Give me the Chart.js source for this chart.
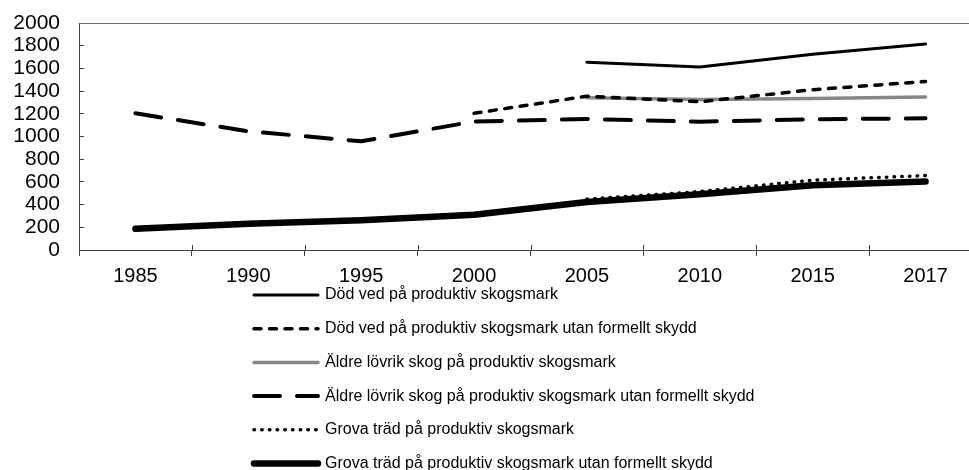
<!DOCTYPE html>
<html><head><meta charset="utf-8">
<script src="https://cdn.jsdelivr.net/npm/chart.js@4/dist/chart.umd.min.js"></script>
<style>
html,body{margin:0;padding:0;overflow:hidden;background:#fff;}
#wrap{position:relative;width:990px;height:470px;}
</style></head><body>
<div id="wrap"><canvas id="c"></canvas></div>
<script>
const years = ['1985','1990','1995','2000','2005','2010','2015','2017'];
const dodVed          = [null, null, null, null, 1655, 1613, 1725, 1815];
const dodVedUtan      = [null, null, null, 1205, 1355, 1306, 1412, 1485];
const aldreLovrik     = [null, null, null, null, 1341, 1327, 1335, 1347];
const aldreLovrikUtan = [1204, 1046, 958, 1132, 1154, 1130, 1152, 1160];
const grovaTrad       = [null, null, null, null, 448, 515, 615, 656];
const grovaTradUtan   = [187, 231, 262, 310, 422, 492, 571, 603];
const seriesNames = [
  'Död ved på produktiv skogsmark',
  'Död ved på produktiv skogsmark utan formellt skydd',
  'Äldre lövrik skog på produktiv skogsmark',
  'Äldre lövrik skog på produktiv skogsmark utan formellt skydd',
  'Grova träd på produktiv skogsmark',
  'Grova träd på produktiv skogsmark utan formellt skydd'
];
const yMin = 0, yMax = 2000, yStep = 200;

const FONT = '"Liberation Sans", Arial, sans-serif';

const vlegend = {
  id: 'vlegend',
  afterDraw(chart) {
    const ctx = chart.ctx;
    chart.data.datasets.forEach((ds, i) => {
      const y = 295 + i * 33.7;
      ctx.save();
      ctx.strokeStyle = ds.borderColor;
      ctx.lineWidth = ds.borderWidth;
      ctx.setLineDash(ds.borderDash || []);
      ctx.lineCap = ds.borderCapStyle || 'butt';
      ctx.beginPath();
      ctx.moveTo(254, y);
      ctx.lineTo(318, y);
      ctx.stroke();
      ctx.setLineDash([]);
      ctx.fillStyle = '#000';
      ctx.font = '16px ' + FONT;
      ctx.textBaseline = 'middle';
      ctx.textAlign = 'left';
      ctx.fillText(ds.label, 325, y);
      ctx.restore();
    });
    // upper half of the crossing x-axis tick marks
    const xs = chart.scales.x;
    ctx.save();
    ctx.strokeStyle = '#404040';
    ctx.lineWidth = 1;
    for (let i = 0; i <= xs.ticks.length; i++) {
      const px = Math.round(xs.getPixelForValue(i - 0.5)) + 0.5;
      ctx.beginPath();
      ctx.moveTo(px, xs.top - 5);
      ctx.lineTo(px, xs.top);
      ctx.stroke();
    }
    ctx.restore();
  }
};

new Chart(document.getElementById('c'), {
  type: 'line',
  data: {
    labels: years,
    datasets: [
      {label: seriesNames[0], data: dodVed, borderColor: '#000', borderWidth: 3, borderCapStyle: 'round'},
      {label: seriesNames[1], data: dodVedUtan, borderColor: '#000', borderWidth: 3.5, borderDash: [7, 8.5], borderCapStyle: 'round'},
      {label: seriesNames[2], data: aldreLovrik, borderColor: '#878787', borderWidth: 3.5, borderCapStyle: 'round'},
      {label: seriesNames[3], data: aldreLovrikUtan, borderColor: '#000', borderWidth: 4, borderDash: [26, 17], borderCapStyle: 'round'},
      {label: seriesNames[4], data: grovaTrad, borderColor: '#000', borderWidth: 3.5, borderDash: [0.5, 7.2], borderCapStyle: 'round'},
      {label: seriesNames[5], data: grovaTradUtan, borderColor: '#000', borderWidth: 6.5, borderCapStyle: 'round'}
    ]
  },
  options: {
    responsive: true,
    maintainAspectRatio: false,
    animation: false,
    events: [],
    elements: {point: {radius: 0}, line: {tension: 0, borderJoinStyle: 'round', fill: false}},
    layout: {padding: {top: 23, right: 8, bottom: 185, left: 0}},
    plugins: {legend: {display: false}, tooltip: {enabled: false}},
    scales: {
      x: {
        type: 'category', position: 'bottom', offset: true,
        grid: {offset: true, drawOnChartArea: false, drawTicks: true, tickLength: 6, color: '#404040'},
        border: {display: true, color: '#404040', width: 1},
        ticks: {color: '#000', font: {size: 20, family: FONT}, padding: 8, maxRotation: 0, autoSkip: false},
        afterFit(s) { s.height = 35; s.paddingLeft = 0; s.paddingRight = 0; }
      },
      xTop: {
        type: 'linear', position: 'top', min: 0, max: 1,
        ticks: {display: false}, grid: {display: false},
        border: {display: true, color: '#6e6e6e', width: 1},
        afterFit(s) { s.height = 0; }
      },
      y: {
        min: yMin, max: yMax,
        ticks: {stepSize: yStep, autoSkip: false, color: '#000', font: {size: 21, family: FONT}, padding: 24,
                callback: (v) => String(v)},
        grid: {drawOnChartArea: false, drawTicks: true, tickLength: -5, color: '#404040'},
        border: {display: true, color: '#404040', width: 1},
        afterFit(s) { s.width = 79; s.paddingTop = 0; s.paddingBottom = 0; }
      }
    }
  },
  plugins: [vlegend]
});
</script>
</body></html>
